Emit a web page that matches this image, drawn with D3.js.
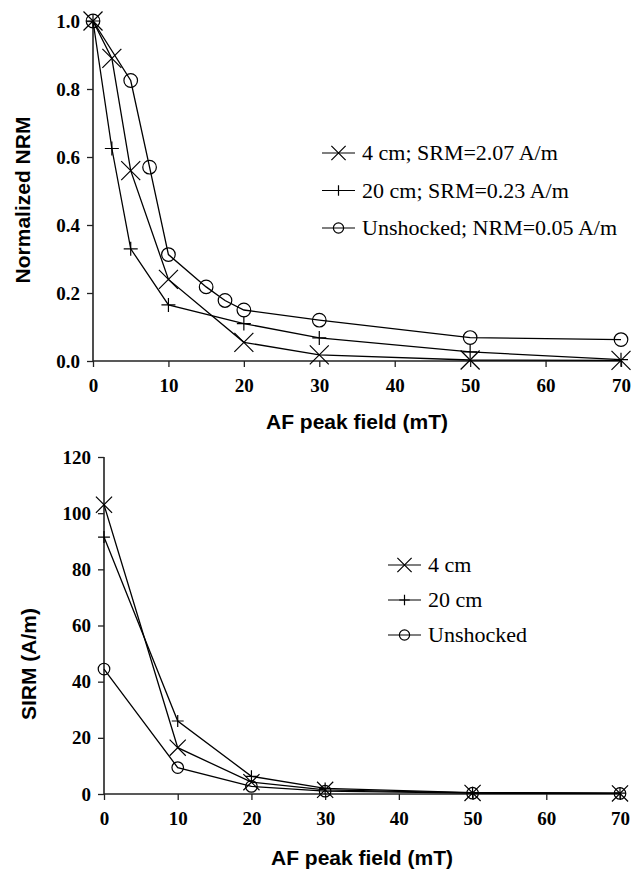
<!DOCTYPE html>
<html>
<head>
<meta charset="utf-8">
<script src="https://cdn.jsdelivr.net/npm/d3@7"></script>
<style>
  body { margin: 0; background: #fff; }
  svg { display: block; }
  .tick text { font-family: "Liberation Serif", "Times New Roman", serif; font-weight: bold; font-size: 19px; fill: #000; }
  .title { font-family: "Liberation Sans", Arial, sans-serif; font-weight: bold; font-size: 21px; fill: #000; }
  .legend text { font-family: "Liberation Serif", "Times New Roman", serif; font-size: 22px; fill: #000; }
</style>
</head>
<body>
<svg id="chart" width="633" height="872"></svg>
<script>
// top panel: normalized NRM vs AF field
var seriesNames = ['4 cm', '20 cm', 'Unshocked'];
var topLabels = ['4 cm; SRM=2.07 A/m', '20 cm; SRM=0.23 A/m', 'Unshocked; NRM=0.05 A/m'];
var markers = ['x', 'plus', 'circle'];

var afTop4 = [0, 2.5, 5, 10, 20, 30, 50, 70];
var nrm4 = [1.0, 0.89, 0.56, 0.24, 0.055, 0.018, 0.003, 0.002];
var afTop20 = [0, 2.5, 5, 10, 20, 30, 50, 70];
var nrm20 = [1.0, 0.625, 0.33, 0.165, 0.11, 0.068, 0.027, 0.004];
var afTopUn = [0, 5, 7.5, 10, 15, 17.5, 20, 30, 50, 70];
var nrmUn = [1.0, 0.825, 0.57, 0.313, 0.218, 0.178, 0.15, 0.12, 0.069, 0.063];

// bottom panel: SIRM vs AF field
var afBot = [0, 10, 20, 30, 50, 70];
var sirm4 = [103, 16.5, 4.2, 1.5, 0.4, 0.2];
var sirm20 = [91.5, 26, 6.3, 2.0, 0.5, 0.3];
var sirmUn = [44.5, 9.4, 2.7, 1.0, 0.3, 0.2];

var xTicks = [0, 10, 20, 30, 40, 50, 60, 70];
var yTicksTop = [0, 0.2, 0.4, 0.6, 0.8, 1.0];
var yTicksBot = [0, 20, 40, 60, 80, 100, 120];

var svg = d3.select('#chart');

function markerPath(type, s) {
  if (type === 'x') return 'M' + (-s) + ',' + (-s) + 'L' + s + ',' + s + 'M' + (-s) + ',' + s + 'L' + s + ',' + (-s);
  if (type === 'plus') return 'M' + (-s) + ',0L' + s + ',0M0,' + (-s) + 'L0,' + s;
  var p = d3.path();
  p.arc(0, 0, s, 0, 2 * Math.PI);
  return p.toString();
}
var markerSize = { x: 9.5, plus: 7, circle: 6.8 };

function drawPanel(opt) {
  var g = svg.append('g');
  var x = d3.scaleLinear().domain([0, 70]).range([opt.left, opt.right]);
  var y = d3.scaleLinear().domain(opt.yDomain).range([opt.bottom, opt.top]);

  var xAxis = g.append('g')
    .attr('transform', 'translate(0,' + opt.bottom + ')')
    .call(d3.axisBottom(x).tickValues(xTicks).tickSize(6).tickPadding(12).tickFormat(d3.format('d')));
  var yAxis = g.append('g')
    .attr('transform', 'translate(' + opt.left + ',0)')
    .call(d3.axisLeft(y).tickValues(opt.yTicks).tickSize(6).tickPadding(7).tickFormat(opt.yFormat));
  // no end caps on the axis lines
  xAxis.select('.domain').attr('d', 'M' + opt.left + ',0H' + opt.right);
  yAxis.select('.domain').attr('d', 'M0,' + opt.bottom + 'V' + opt.top);
  g.selectAll('.domain').attr('stroke', '#222').attr('stroke-width', 1.6);
  g.selectAll('.tick line').attr('stroke', '#222').attr('stroke-width', 1.3);

  g.append('text').attr('class', 'title')
    .attr('x', (opt.left + opt.right) / 2).attr('y', opt.xTitleY)
    .attr('text-anchor', 'middle').text('AF peak field (mT)');
  g.append('text').attr('class', 'title')
    .attr('transform', 'translate(' + opt.yTitleX + ',' + opt.yTitleY + ') rotate(-90)')
    .attr('text-anchor', 'middle').text(opt.yTitle);

  var line = d3.line().x(function(d) { return x(d[0]); }).y(function(d) { return y(d[1]); });
  opt.series.forEach(function(s, i) {
    var pts = d3.zip(s.x, s.y);
    g.append('path').datum(pts)
      .attr('fill', 'none').attr('stroke', '#000').attr('stroke-width', 1.3)
      .attr('d', line);
    g.selectAll('.m' + i).data(pts).enter().append('path')
      .attr('transform', function(d) { return 'translate(' + x(d[0]) + ',' + y(d[1]) + ')'; })
      .attr('d', markerPath(markers[i], markerSize[markers[i]] * opt.mscale))
      .attr('fill', 'none').attr('stroke', '#000').attr('stroke-width', 1.2);
  });

  var leg = g.append('g').attr('class', 'legend');
  opt.labels.forEach(function(lab, i) {
    var yy = opt.legY + i * opt.legStep;
    leg.append('line').attr('x1', opt.legX).attr('x2', opt.legX + 33)
      .attr('y1', yy).attr('y2', yy).attr('stroke', '#000').attr('stroke-width', 1.2);
    leg.append('path').attr('transform', 'translate(' + (opt.legX + 16.5) + ',' + yy + ')')
      .attr('d', markerPath(markers[i], markerSize[markers[i]] * 0.75))
      .attr('fill', 'none').attr('stroke', '#000').attr('stroke-width', 1.2);
    leg.append('text').attr('x', opt.legX + 40).attr('y', yy).attr('dy', '0.34em').text(lab);
  });
}

drawPanel({
  left: 93, right: 621, top: 21, bottom: 361,
  yDomain: [0, 1], yTicks: yTicksTop, yFormat: d3.format('.1f'),
  yTitle: 'Normalized NRM', yTitleX: 30, yTitleY: 200,
  xTitleY: 429, mscale: 1,
  series: [{ x: afTop4, y: nrm4 }, { x: afTop20, y: nrm20 }, { x: afTopUn, y: nrmUn }],
  labels: topLabels, legX: 322, legY: 153, legStep: 37.5
});

drawPanel({
  left: 104, right: 620, top: 457, bottom: 794,
  yDomain: [0, 120], yTicks: yTicksBot, yFormat: d3.format('d'),
  yTitle: 'SIRM (A/m)', yTitleX: 36, yTitleY: 664,
  xTitleY: 865, mscale: 0.85,
  series: [{ x: afBot, y: sirm4 }, { x: afBot, y: sirm20 }, { x: afBot, y: sirmUn }],
  labels: seriesNames, legX: 388, legY: 565, legStep: 35
});
</script>
</body>
</html>
